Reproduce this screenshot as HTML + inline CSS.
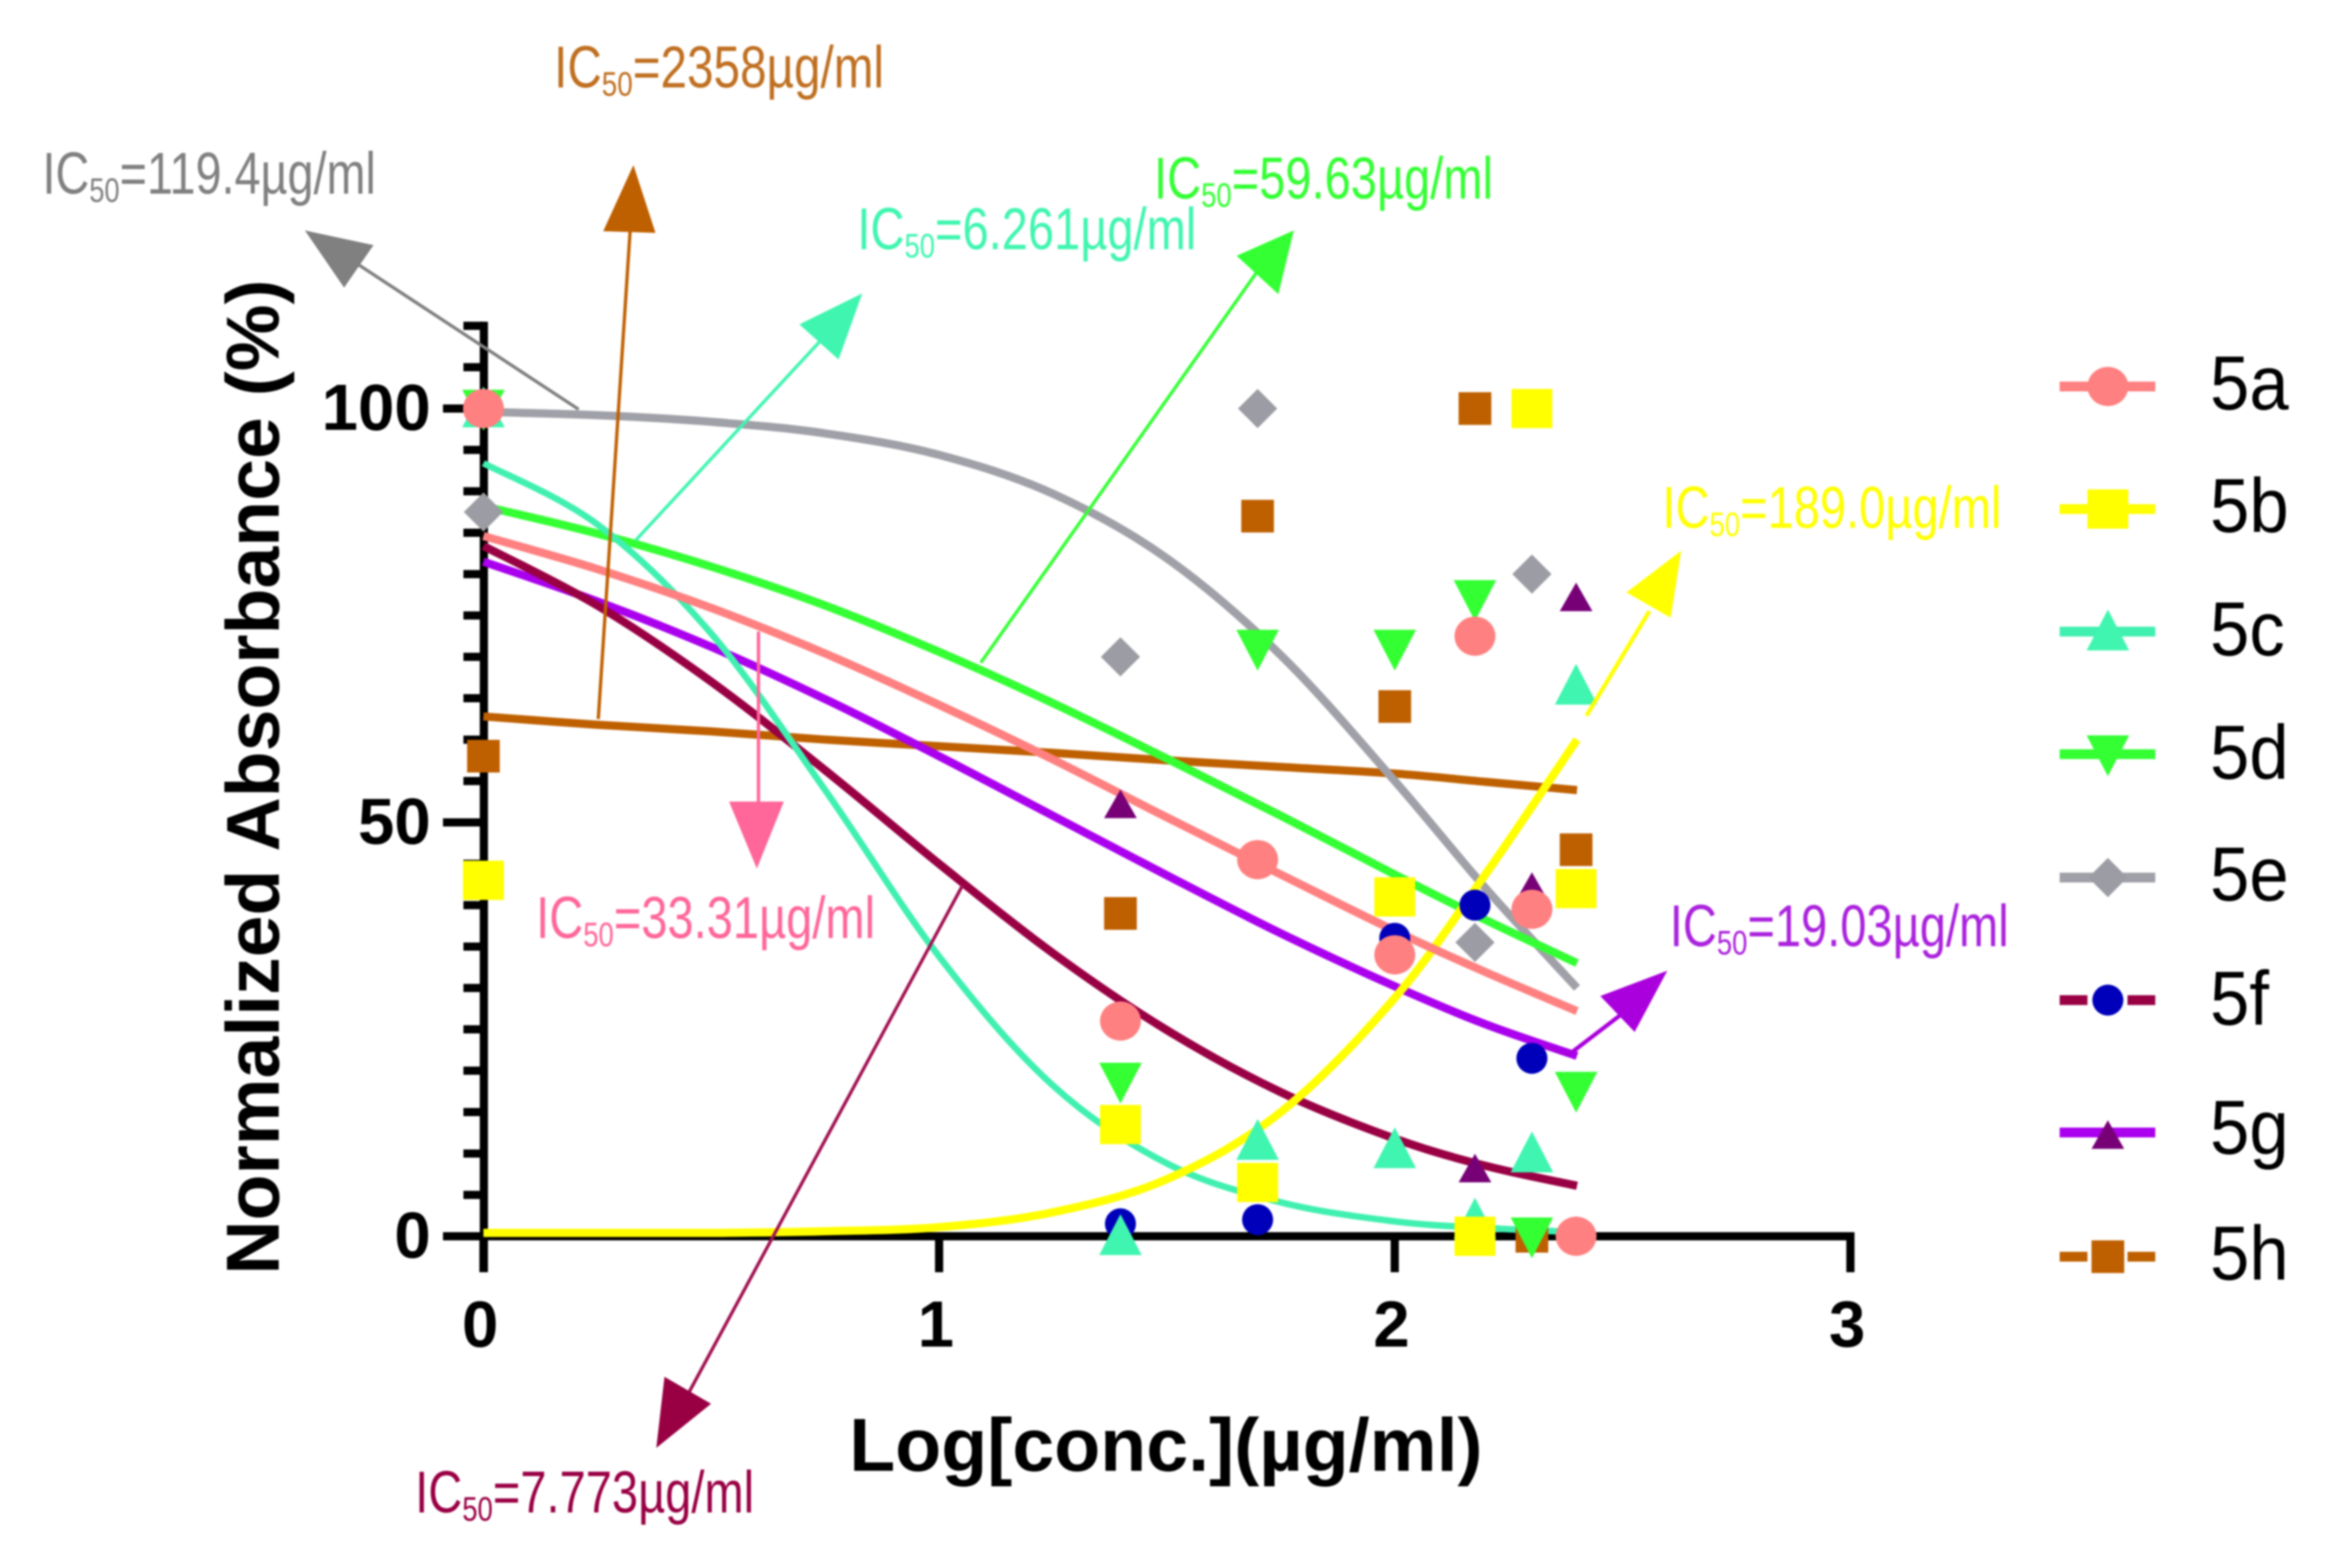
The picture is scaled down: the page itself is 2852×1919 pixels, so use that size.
<!DOCTYPE html>
<html>
<head>
<meta charset="utf-8">
<title>Normalized absorbance dose-response chart</title>
<style>
html,body{margin:0;padding:0;background:#fff;width:2852px;height:1919px;overflow:hidden}
svg{display:block;filter:blur(1px)}
text{font-family:"Liberation Sans",sans-serif}
</style>
</head>
<body>
<svg id="chart" xmlns="http://www.w3.org/2000/svg" width="2852" height="1919" viewBox="0 0 2852 1919">
<rect x="0" y="0" width="2852" height="1919" fill="#fff"/>
<g id="axes"></g>
<g id="curves"></g>
<g id="markers"></g>

<g>
  <g><line x1="708" y1="501" x2="425" y2="315" stroke="#808080" stroke-width="4"/><polygon points="373,282 457,300 421,352" fill="#808080"/></g>
  <g><line x1="732" y1="880" x2="771" y2="282" stroke="#bf6000" stroke-width="4"/><polygon points="775,202 738,283 802,285" fill="#bf6000"/></g>
  <g><line x1="778" y1="661" x2="1015" y2="405" stroke="#40f5b0" stroke-width="4"/><polygon points="1055,359 978,397 1026,440" fill="#40f5b0"/></g>
  <g><line x1="1200" y1="811" x2="1542" y2="327" stroke="#33ff33" stroke-width="4"/><polygon points="1583,282 1513,313 1564,360" fill="#33ff33"/></g>
  <g><line x1="928" y1="773" x2="928" y2="982" stroke="#ff6699" stroke-width="4"/><polygon points="892,981 959,981 926,1063" fill="#ff6699"/></g>
  <g><line x1="1178" y1="1083" x2="843" y2="1704" stroke="#a01050" stroke-width="4"/><polygon points="803,1772 813,1685 870,1718" fill="#990044"/></g>
  <g><line x1="1941" y1="876" x2="2018" y2="748" stroke="#ffff00" stroke-width="5"/><polygon points="2057,674 1990,725 2044,756" fill="#ffff00"/></g>
  <g><polyline points="1890,1280 1919,1291 1983,1242" fill="none" stroke="#aa00dd" stroke-width="5"/><polygon points="2040,1188 1958,1219 2000,1263" fill="#aa00dd"/></g>
</g>

<g font-size="72">
  <text transform="translate(678,107) scale(.81,1)" fill="#bf6f20">IC<tspan font-size="42" dy="10">50</tspan><tspan dy="-10">=2358µg/ml</tspan></text>
  <text transform="translate(52,237) scale(.795,1)" fill="#808080">IC<tspan font-size="42" dy="10">50</tspan><tspan dy="-10">=119.4µg/ml</tspan></text>
  <text transform="translate(1049,305) scale(.8,1)" fill="#40f5b0">IC<tspan font-size="42" dy="10">50</tspan><tspan dy="-10">=6.261µg/ml</tspan></text>
  <text transform="translate(1412,243) scale(.8,1)" fill="#33ff33">IC<tspan font-size="42" dy="10">50</tspan><tspan dy="-10">=59.63µg/ml</tspan></text>
  <text transform="translate(2034,646) scale(.8,1)" fill="#ffff00">IC<tspan font-size="42" dy="10">50</tspan><tspan dy="-10">=189.0µg/ml</tspan></text>
  <text transform="translate(2043,1158) scale(.8,1)" fill="#aa22dd">IC<tspan font-size="42" dy="10">50</tspan><tspan dy="-10">=19.03µg/ml</tspan></text>
  <text transform="translate(656,1148) scale(.8,1)" fill="#ff6699">IC<tspan font-size="42" dy="10">50</tspan><tspan dy="-10">=33.31µg/ml</tspan></text>
  <text transform="translate(508,1851) scale(.8,1)" fill="#990044">IC<tspan font-size="42" dy="10">50</tspan><tspan dy="-10">=7.773µg/ml</tspan></text>
</g>

<text x="1039" y="1800" font-size="92" font-weight="bold" textLength="775" lengthAdjust="spacingAndGlyphs" fill="#000">Log[conc.](µg/ml)</text>
<text transform="translate(341,1560) rotate(-90)" font-size="92" font-weight="bold" textLength="1218" lengthAdjust="spacingAndGlyphs" fill="#000">Normalized Absorbance (%)</text>
<g id="legend"></g>
</svg>

<script>
// ---- chart data ----
const seriesNames = ['5a','5b','5c','5d','5e','5f','5g','5h'];
const logDoses = [0, 1.398, 1.699, 2, 2.176, 2.301, 2.398];

const points5a = [100, 26, 45.5, 34, 72.5, 39.5, 0];
const points5b = [43, 13.5, 6.5, 41, 0, 100, 42];
const points5c = [100, 0, 11.5, 10.5, 2, 10, 66.5];
const points5d = [100, 18.7, 71, 71, 77, 0, 17.6];
const points5e = [87.5, 70, 100, null, 35.5, 80, null];
const points5f = [null, 1.5, 2, 36, 40, 21.5, null];
const points5g = [null, 52, null, null, 8, 42, 77];
const points5h = [58, 39, 87, 64, 100, 0, 46.7];

const curveGrid = [0, 0.25, 0.5, 0.75, 1, 1.25, 1.5, 1.75, 2, 2.2, 2.4];
const curve5a = [84.6, 80.6, 75.9, 70.4, 64.2, 57.6, 50.6, 43.7, 36.9, 31.9, 27.2];
const curve5b = [0.4, 0.4, 0.4, 0.6, 1.1, 2.9, 6.9, 15, 28.8, 43.8, 60];
const curve5c = [93.4, 86, 72.8, 53.9, 33.8, 18.2, 8.8, 4.1, 1.8, 1, 0.5];
const curve5d = [88.2, 84.9, 80.9, 76.2, 70.6, 64.4, 57.7, 50.8, 43.7, 38.2, 33];
const curve5e = [99.6, 99.2, 98.4, 97, 94.4, 89.7, 81.9, 70.2, 55, 42, 30];
const curve5f = [83.4, 76.2, 67, 56.3, 45, 34.2, 24.9, 17.4, 11.8, 8.5, 6.1];
const curve5g = [81.5, 76.7, 71.2, 64.9, 58, 50.8, 43.6, 36.6, 30.2, 25.6, 21.8];
const curve5h = [62.8, 61.8, 61, 60, 59.2, 58.4, 57.5, 56.7, 55.9, 54.9, 53.9];

const yMajorTicks = [0, 50, 100];
const yMinorTicks = [5,10,15,20,25,30,35,40,45,55,60,65,70,75,80,85,90,95,105,110];
const xTicks = [0, 1, 2, 3];

// ---- styles ----
const lineColors = {'5a':'#ff8080','5b':'#ffff00','5c':'#40f0b0','5d':'#33ff33','5e':'#a0a0a8','5f':'#990044','5g':'#aa00ee','5h':'#bf6000'};
const markerColors = {'5a':'#ff8080','5b':'#ffff00','5c':'#40f5b0','5d':'#33ff33','5e':'#9c9ca4','5f':'#0000bb','5g':'#770077','5h':'#bf6000'};
const markerShapes = {'5a':'circle','5b':'square','5c':'up','5d':'down','5e':'diamond','5f':'smallcircle','5g':'smallup','5h':'smallsquare'};
const legendBaselines = {'5a':501,'5b':651,'5c':802,'5d':953,'5e':1102,'5f':1254,'5g':1412,'5h':1566};
const legendRows = {'5a':473,'5b':623,'5c':773,'5d':923,'5e':1074,'5f':1224,'5g':1386,'5h':1538};
const pointsBySeries = {'5a':points5a,'5b':points5b,'5c':points5c,'5d':points5d,'5e':points5e,'5f':points5f,'5g':points5g,'5h':points5h};
const curvesBySeries = {'5a':curve5a,'5b':curve5b,'5c':curve5c,'5d':curve5d,'5e':curve5e,'5f':curve5f,'5g':curve5g,'5h':curve5h};

const NS = 'http://www.w3.org/2000/svg';
const xScale = v => 591.5 + v * 557.5;
const yScale = v => 1513 - v * 10.13;

function make(parent, tag, attrs) {
  const node = document.createElementNS(NS, tag);
  for (const k in attrs) node.setAttribute(k, attrs[k]);
  parent.appendChild(node);
  return node;
}

function marker(parent, shape, cx, cy, color) {
  let m;
  if (shape === 'circle') m = make(parent, 'ellipse', {cx: cx, cy: cy, rx: 25, ry: 24, fill: color});
  else if (shape === 'smallcircle') m = make(parent, 'ellipse', {cx: cx, cy: cy, rx: 19, ry: 19, fill: color});
  else if (shape === 'square') m = make(parent, 'rect', {x: cx - 25, y: cy - 24, width: 50, height: 48, fill: color});
  else if (shape === 'smallsquare') m = make(parent, 'rect', {x: cx - 20, y: cy - 20, width: 40, height: 40, fill: color});
  else if (shape === 'up') m = make(parent, 'polygon', {points: [cx, cy - 27, cx + 26, cy + 23, cx - 26, cy + 23].join(','), fill: color});
  else if (shape === 'smallup') m = make(parent, 'polygon', {points: [cx, cy - 20, cx + 20, cy + 15, cx - 20, cy + 15].join(','), fill: color});
  else if (shape === 'down') m = make(parent, 'polygon', {points: [cx, cy + 27, cx + 26, cy - 23, cx - 26, cy - 23].join(','), fill: color});
  else m = make(parent, 'polygon', {points: [cx, cy - 24, cx + 24, cy, cx, cy + 24, cx - 24, cy].join(','), fill: color});
  return m;
}

function smoothPath(pts) {
  let d = 'M' + pts[0][0].toFixed(1) + ' ' + pts[0][1].toFixed(1);
  for (let i = 0; i < pts.length - 1; i++) {
    const p0 = pts[Math.max(i - 1, 0)], p1 = pts[i], p2 = pts[i + 1], p3 = pts[Math.min(i + 2, pts.length - 1)];
    const c1x = p1[0] + (p2[0] - p0[0]) / 6, c1y = p1[1] + (p2[1] - p0[1]) / 6;
    const c2x = p2[0] - (p3[0] - p1[0]) / 6, c2y = p2[1] - (p3[1] - p1[1]) / 6;
    d += 'C' + c1x.toFixed(1) + ' ' + c1y.toFixed(1) + ' ' + c2x.toFixed(1) + ' ' + c2y.toFixed(1) + ' ' + p2[0].toFixed(1) + ' ' + p2[1].toFixed(1);
  }
  return d;
}

// ---- axes ----
const axes = document.getElementById('axes');
let el = make(axes, 'line', {x1: 592, y1: yScale(110) - 5, x2: 592, y2: 1557, stroke: '#000', 'stroke-width': 10});


el = make(axes, 'line', {x1: 587, y1: 1513, x2: xScale(3) + 5, y2: 1513, stroke: '#000', 'stroke-width': 10});



yMinorTicks.forEach(v => {
  const t = make(axes, 'line', {x1: 567, y1: yScale(v), x2: 592, y2: yScale(v), stroke: '#000', 'stroke-width': 10});
  
  
});
yMajorTicks.forEach(v => {
  const t = make(axes, 'line', {x1: 542, y1: yScale(v), x2: 592, y2: yScale(v), stroke: '#000', 'stroke-width': 10});
  
  
  const l = make(axes, 'text', {x: 527, y: yScale(v) + 26, 'text-anchor': 'end', 'font-size': 80, 'font-weight': 'bold', fill: '#000'});
  l.textContent = String(v);
  
  
});
xTicks.forEach(v => {
  const t = make(axes, 'line', {x1: xScale(v), y1: 1513, x2: xScale(v), y2: 1557, stroke: '#000', 'stroke-width': 10});
  
  
  const l = make(axes, 'text', {x: xScale(v) - 4, y: 1648, 'text-anchor': 'middle', 'font-size': 80, 'font-weight': 'bold', fill: '#000'});
  l.textContent = String(v);
  
  
});

// ---- series: drawn in reverse so 5a ends up on top ----
const curvesLayer = document.getElementById('curves');
const markersLayer = document.getElementById('markers');
seriesNames.slice().reverse().forEach(name => {
  const pts = curvesBySeries[name].map((v, i) => [xScale(curveGrid[i]), yScale(v)]);
  const c = make(curvesLayer, 'path', {d: smoothPath(pts), fill: 'none', stroke: lineColors[name], 'stroke-width': name === '5c' ? 8 : 10});
  
  
  pointsBySeries[name].forEach((v, i) => {
    if (v === null) return;
    const m = marker(markersLayer, markerShapes[name], xScale(logDoses[i]), yScale(v), markerColors[name]);
    
    
  });
});

// ---- legend ----
const legend = document.getElementById('legend');
seriesNames.forEach(name => {
  const y = legendRows[name];
  const dashed = name === '5f' || name === '5h';
  const ln = make(legend, 'line', {x1: 2520, y1: y, x2: 2637, y2: y, stroke: lineColors[name], 'stroke-width': 12});
  
  
  if (dashed) {
    const gap = make(legend, 'rect', {x: 2554, y: y - 8, width: 49, height: 16, fill: '#fff'});
    
    
  }
  const m = marker(legend, markerShapes[name], 2579, name === '5g' ? y + 5 : y, markerColors[name]);
  
  
  const t = make(legend, 'text', {transform: 'translate(2704,' + legendBaselines[name] + ') scale(.92,1)', 'font-size': 94, fill: '#000'});
  t.textContent = name;
  
  
});
</script>
</body>
</html>
